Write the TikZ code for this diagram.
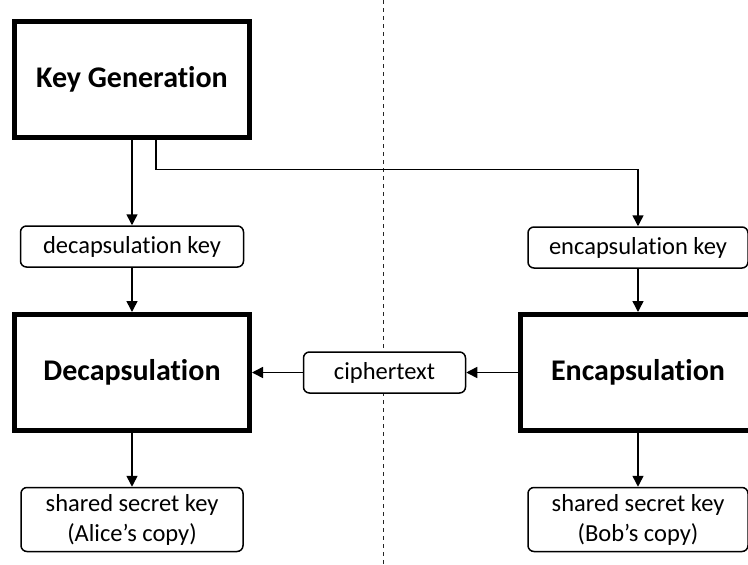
\documentclass[tikz,border=0pt]{standalone}
\usepackage{fontspec}
\setmainfont{Carlito}[Ligatures=NoCommon]
\usetikzlibrary{arrows.meta}
\begin{document}
\begin{tikzpicture}[x=1pt, y=-1pt,
	stage/.style={draw, line width=5pt, minimum width=235pt, minimum height=116pt, inner sep=0pt, font=\fontsize{30}{36}\selectfont\bfseries},
	item/.style={draw, fill=white, line width=1.5pt, rounded corners=6pt, minimum height=41pt, inner sep=0pt, align=center, font=\fontsize{24.5}{30}\selectfont},
	flow/.style={line width=1.5pt, -{Triangle[length=11pt,width=11pt]}}]
	
	\useasboundingbox (0,0) rectangle (748,565);
	\draw[line width=0.9pt, black!85, dash pattern=on 4pt off 4pt] (383,0) -- (383,565);
	
	\node[stage] (keygen) at (132,79) {Key Generation};
	\node[item, minimum width=223pt] (deckey) at (132,246.5) {decapsulation key};
	\node[item, minimum width=220pt] (enckey) at (638,247.5) {encapsulation key};
	\node[stage] (decap) at (132,372.5) {Decapsulation};
	\node[stage] (encap) at (638,372.5) {Encapsulation};
	\node[item, minimum width=162pt] (ctext) at (384.5,372.5) {ciphertext};
	\node[item, minimum width=222pt, minimum height=64pt] (alice) at (132,519.5) {shared secret key\\(Alice’s copy)};
	\node[item, minimum width=220pt, minimum height=64pt] (bob) at (638,519.5) {shared secret key\\(Bob’s copy)};
	
	\draw[flow] (keygen.south) -- (deckey.north);
	\draw[flow] ([xshift=24pt]keygen.south) -- ++(0,30) -| (enckey.north);
	\draw[flow] (deckey.south) -- (decap.north);
	\draw[flow] (enckey.south) -- (encap.north);
	\draw[flow] (encap.west) -- (ctext.east);
	\draw[flow] (ctext.west) -- (decap.east);
	\draw[flow] (decap.south) -- (alice.north);
	\draw[flow] (encap.south) -- (bob.north);
\end{tikzpicture}
\end{document}
